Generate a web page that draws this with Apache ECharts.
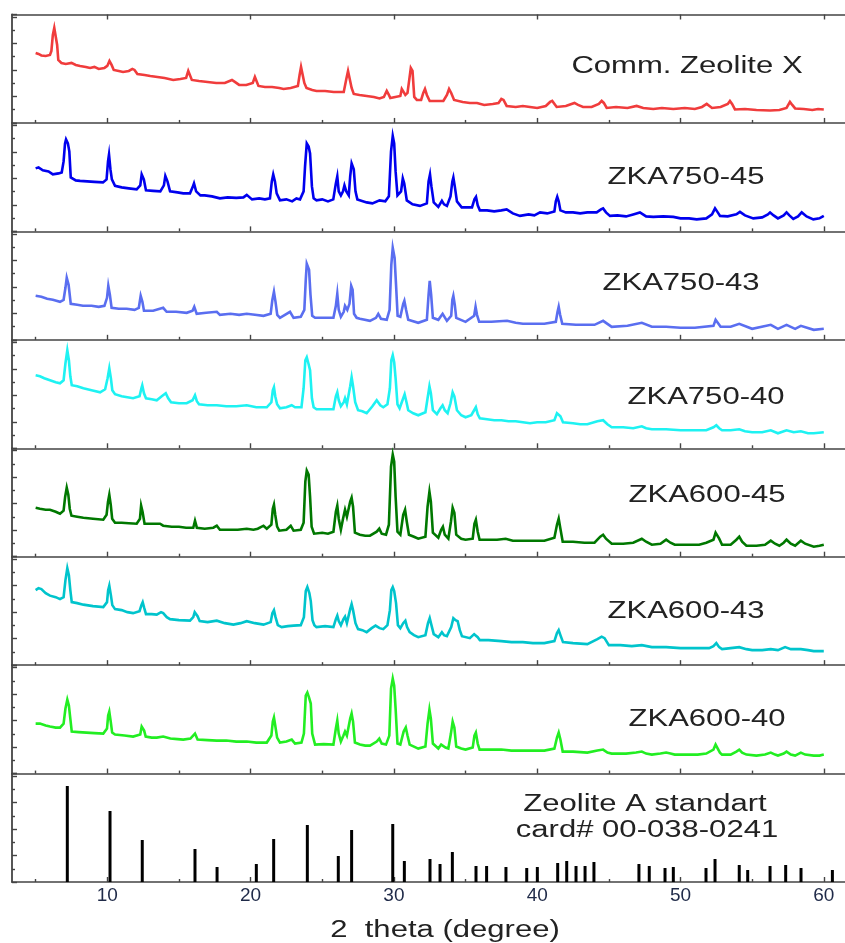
<!DOCTYPE html>
<html>
<head>
<meta charset="utf-8">
<script src="https://cdn.jsdelivr.net/npm/echarts@6/dist/echarts.min.js"></script>
<style>html,body{margin:0;padding:0;background:#fff}#c{width:845px;height:943px}</style>
</head>
<body>
<div id="c"></div>
<script>
// ---- data (2 theta in degrees, intensity in arbitrary units per panel) ----
const xTickLabels = [10, 20, 30, 40, 50, 60];
const xMinorTicks = [5, 15, 25, 35, 45, 55];
const sampleNames = ['Comm. Zeolite X', 'ZKA750-45', 'ZKA750-43', 'ZKA750-40', 'ZKA600-45', 'ZKA600-43', 'ZKA600-40'];

const commZeoliteX = [[5.0,70],[5.2,69],[5.4,67.5],[5.7,67],[6.0,68],[6.1,72],[6.2,88],[6.3,95],[6.42,93],[6.5,78],[6.58,63],[6.8,60],[7.1,59],[7.5,60],[7.8,58],[8.1,57],[8.5,56],[8.8,55],[9.1,56],[9.4,54],[9.8,55],[10.0,57],[10.15,62],[10.3,58],[10.45,53],[10.8,52],[11.1,51],[11.5,52],[11.75,54],[11.9,53],[12.1,49],[12.6,48],[13.0,47],[13.5,46],[14.0,45],[14.6,43],[15.1,44],[15.5,45],[15.65,52],[15.75,53],[15.9,43],[16.4,42],[17.0,41],[17.6,40],[18.2,40],[18.7,43],[18.9,41],[19.2,38],[19.7,38],[20.15,40],[20.3,46],[20.42,45],[20.55,37],[21.0,36],[21.5,36],[22.0,35],[22.3,34],[22.8,35],[23.3,37],[23.42,48],[23.52,56],[23.62,55],[23.75,40],[23.9,35],[24.3,33],[24.6,32],[25.2,32],[25.8,31],[26.5,31],[26.68,44],[26.8,52],[26.92,50],[27.05,35],[27.2,29],[27.6,28],[28.1,27],[28.6,26],[29.0,24.5],[29.3,26],[29.5,32],[29.65,28],[29.75,25],[30.1,26],[30.45,27],[30.55,34],[30.68,35],[30.8,28],[30.95,30],[31.08,44],[31.18,55],[31.3,52],[31.42,26],[31.6,23],[31.9,23],[32.05,30],[32.17,34],[32.3,28],[32.5,22],[33.0,22],[33.45,22],[33.7,28],[33.85,34],[34.0,30],[34.2,23],[34.8,21],[35.3,20],[35.8,20],[36.3,18],[36.9,19],[37.3,20],[37.5,24],[37.65,23],[37.87,17],[38.5,16],[39.0,17],[39.5,16],[40.0,15],[40.6,17],[40.9,21],[41.05,22],[41.36,16],[42.0,17],[42.6,20],[42.85,18],[43.2,16],[43.8,16],[44.3,19],[44.5,22],[44.65,20],[44.85,15],[45.5,16],[46.3,15],[46.94,17],[47.4,15],[48.1,14],[48.7,15],[49.5,14],[50.3,15],[51.0,14],[51.5,16],[51.83,19],[52.2,15],[52.8,16],[53.3,19],[53.45,22],[53.6,19],[53.8,13.5],[54.5,14],[55.3,13],[56.25,12.5],[56.9,13],[57.4,15],[57.64,21],[57.8,18],[58.0,14.5],[58.6,14],[59.2,13],[59.6,14],[60.0,13.5]];

const zka750_45 = [[5.0,63],[5.2,64],[5.5,61],[5.9,60],[6.2,57],[6.6,58],[6.82,59],[6.95,70],[7.05,88],[7.12,92],[7.25,88],[7.35,80],[7.45,54],[7.8,51],[8.1,50.5],[8.6,50],[9.1,49.5],[9.7,49],[9.95,52],[10.05,70],[10.12,77],[10.22,62],[10.32,52],[10.54,45.5],[11.0,44],[11.5,43],[12.05,42],[12.3,46],[12.4,57],[12.55,52],[12.7,41],[13.2,40.5],[13.7,40],[13.95,46],[14.05,55.5],[14.2,50],[14.38,40],[14.9,39],[15.3,38],[15.77,38],[15.95,44],[16.05,48],[16.2,40],[16.5,36],[16.8,36],[17.3,35],[17.86,33],[18.4,34],[19.0,33.5],[19.5,34],[19.73,36.5],[20.1,32],[20.6,33],[21.0,32],[21.35,33],[21.48,50],[21.58,57],[21.7,50],[21.82,38],[22.05,31],[22.5,32],[22.9,30],[23.2,33],[23.45,32],[23.7,40],[23.8,65],[23.92,88],[24.05,85],[24.15,78],[24.28,45],[24.4,33],[24.6,31],[25.0,32],[25.4,30],[25.77,32],[25.95,48],[26.05,55],[26.15,40],[26.3,36],[26.45,40],[26.55,46],[26.68,40],[26.85,36],[26.95,55],[27.05,68],[27.2,62],[27.32,40],[27.45,32],[28.1,29],[28.5,28],[29.0,31],[29.4,30],[29.65,35],[29.8,80],[29.92,95.5],[30.02,88],[30.12,60],[30.25,36],[30.5,40],[30.62,53],[30.72,48],[30.9,31],[31.3,27],[31.82,25.5],[32.3,28],[32.42,50],[32.52,57],[32.62,45],[32.78,29],[33.1,24.5],[33.35,30.5],[33.5,27],[33.7,25.5],[33.95,35],[34.08,50],[34.15,54],[34.25,45],[34.4,30],[34.73,24],[35.1,24],[35.45,24],[35.62,32],[35.73,34.5],[35.85,26],[36.0,21],[36.5,21],[37.0,20],[37.5,21],[37.87,22],[38.3,18],[38.8,15.5],[39.4,17],[39.8,16],[40.2,19],[40.7,18],[41.2,20],[41.3,30],[41.4,34.5],[41.5,30],[41.62,21],[42.0,19],[42.5,19],[43.0,18],[43.5,19],[44.15,19],[44.45,22],[44.6,23],[44.8,19],[45.08,15.5],[45.6,16],[46.2,15],[46.7,17],[47.17,19],[47.6,15],[48.1,14.5],[48.8,15],[49.5,14.5],[50.0,13],[50.6,13],[51.13,12],[51.8,13],[52.2,17],[52.41,23],[52.6,19],[52.76,15.5],[53.3,15],[53.9,17],[54.15,19.5],[54.5,16],[55.08,13],[55.7,14],[56.1,17],[56.25,19],[56.5,16],[56.8,13],[57.2,16],[57.4,19],[57.6,16],[57.87,12.5],[58.2,15],[58.46,19],[58.8,15],[59.27,12],[59.7,13],[60.0,15.5]];

const zka750_43 = [[5.0,44],[5.4,43],[5.8,41],[6.2,40],[6.7,38],[6.95,40],[7.08,52],[7.17,62],[7.3,55],[7.45,36],[7.9,35],[8.3,34],[8.9,34],[9.4,33],[9.8,34],[9.98,42],[10.07,54],[10.18,45],[10.3,32],[10.8,31],[11.35,31],[11.9,30],[12.2,32],[12.33,44],[12.45,38],[12.56,29],[13.2,29],[13.9,32],[14.14,28],[14.8,28],[15.54,27],[15.95,29],[16.07,33],[16.24,26],[16.9,27],[17.64,28],[17.86,25],[18.6,26],[19.2,25],[19.73,26],[20.3,25],[20.9,24],[21.4,26],[21.52,40],[21.63,48],[21.74,38],[21.86,25],[22.05,22],[22.75,28],[23.0,22],[23.5,23],[23.75,30],[23.85,60],[23.92,76],[24.08,70],[24.18,45],[24.3,24],[24.5,22],[25.1,22],[25.78,22],[25.95,34],[26.05,46],[26.15,30],[26.3,23],[26.5,28],[26.59,34],[26.75,30],[26.9,36],[27.02,54],[27.12,50],[27.22,26],[27.4,22],[27.63,21],[28.33,19],[28.75,22],[28.91,26],[29.1,21],[29.5,20],[29.7,30],[29.82,75],[29.92,92],[30.05,82],[30.15,55],[30.26,24],[30.45,23],[30.65,36],[30.73,39],[30.85,30],[31.0,20],[31.7,17],[32.3,20],[32.42,45],[32.5,59],[32.6,45],[32.72,22],[33.1,20],[33.4,26],[33.7,19],[34.0,24],[34.08,40],[34.15,44],[34.25,35],[34.35,22],[35.0,18],[35.6,24],[35.7,33],[35.8,25],[35.95,18],[36.8,18],[37.9,19],[38.5,17],[39.0,16],[39.7,16],[40.5,16],[41.3,18],[41.42,28],[41.5,33],[41.6,25],[41.75,16],[42.7,15],[44.0,15],[44.6,19],[45.2,13],[46.3,14],[47.3,17],[48.0,13],[49.0,13],[50.0,12],[51.0,12],[52.3,14],[52.45,20],[52.55,21],[52.8,13],[53.5,13],[54.1,16],[55.0,11],[56.3,15],[56.8,11],[57.4,15],[58.0,11],[58.4,14],[59.3,10],[60.0,11]];

const zka750_40 = [[5.0,73],[5.3,72],[5.6,70],[6.0,68],[6.4,66],[6.7,65],[6.95,68],[7.08,85],[7.21,98],[7.32,88],[7.42,72],[7.52,63],[7.9,62],[8.33,60],[8.9,58],[9.5,56],[9.85,59],[10.02,70],[10.14,80],[10.25,70],[10.35,58],[10.54,54],[11.0,52],[11.4,51],[11.8,50],[12.25,52],[12.38,60],[12.44,63],[12.56,55],[12.7,50],[13.1,49],[13.45,48],[13.8,52],[14.08,55],[14.25,50],[14.45,46],[15.0,45],[15.54,45],[15.95,48],[16.12,53],[16.25,47],[16.4,44],[17.0,43],[17.64,43],[18.3,42],[19.0,42],[19.73,43],[20.4,41],[21.13,41],[21.45,46],[21.55,58],[21.63,61],[21.72,52],[21.85,44],[22.05,40],[22.5,41],[22.87,43],[23.1,41],[23.55,41],[23.7,60],[23.82,88],[23.92,91],[24.05,84],[24.15,78],[24.28,50],[24.4,41],[24.6,39],[25.1,39],[25.78,39],[25.95,52],[26.05,56],[26.15,48],[26.3,42],[26.5,46],[26.59,50],[26.72,44],[26.85,42],[26.95,62],[27.05,71],[27.15,62],[27.3,46],[27.5,38],[27.8,37],[28.1,35],[28.5,42],[28.8,48],[29.05,43],[29.26,41],[29.55,44],[29.72,60],[29.82,88],[29.92,93],[30.02,86],[30.12,70],[30.25,44],[30.4,40],[30.6,48],[30.75,54],[30.88,46],[31.0,38],[31.35,35],[31.7,33],[32.2,36],[32.35,50],[32.48,62],[32.58,55],[32.72,38],[33.0,34],[33.25,40],[33.4,43],[33.55,38],[33.75,35],[33.95,45],[34.1,56],[34.22,52],[34.4,38],[34.7,33],[35.0,31],[35.4,33],[35.6,38],[35.72,41],[35.85,34],[36.0,30],[36.5,29],[37.0,28],[37.5,28],[38.0,27],[38.5,27],[39.0,26],[39.5,25],[40.0,26],[40.6,26],[41.2,28],[41.38,35],[41.5,37],[41.62,32],[41.8,26],[42.5,25],[43.0,24],[43.5,24],[44.2,27],[44.6,28],[44.9,24],[45.2,21],[46.0,21],[46.7,20],[47.3,22],[47.6,20],[48.0,19],[49.0,19],[50.0,18],[51.0,18],[51.8,18],[52.3,21],[52.5,23],[52.7,20],[52.9,18],[53.5,18],[54.1,19],[54.5,17],[55.0,16],[55.7,16],[56.3,18],[56.8,15],[57.4,18],[57.9,16],[58.4,17],[58.9,15],[59.3,15],[60.0,16]];

const zka600_45 = [[5.0,49],[5.3,48],[5.7,47],[6.0,47],[6.4,45],[6.7,43],[6.95,46],[7.06,60],[7.17,69],[7.28,62],[7.38,48],[7.5,41],[7.9,40],[8.33,39],[9.0,38],[9.72,37],[9.95,42],[10.05,55],[10.14,62],[10.24,52],[10.34,38],[10.54,34],[11.0,34],[11.5,33.5],[12.05,33],[12.28,38],[12.36,51],[12.46,45],[12.6,33],[13.0,33],[13.68,33],[13.9,31],[14.5,30],[15.0,30],[15.5,29],[16.0,29],[16.12,36],[16.25,29],[16.8,28],[17.4,29],[17.64,31],[17.86,27],[18.5,27],[19.1,27],[19.73,28],[20.2,27],[20.5,28],[20.9,31],[21.13,28],[21.45,32],[21.55,48],[21.63,52],[21.72,42],[21.85,30],[22.0,26],[22.5,27],[22.8,31],[23.0,26],[23.5,27],[23.7,34],[23.82,75],[23.92,86],[24.05,82],[24.15,60],[24.26,30],[24.43,23],[25.0,24],[25.4,23],[25.78,25],[25.95,45],[26.05,51],[26.15,38],[26.3,27],[26.45,38],[26.59,47],[26.72,40],[26.85,40],[26.95,55],[27.05,59],[27.15,50],[27.28,24],[27.63,22],[28.0,21],[28.33,21],[28.8,25],[28.98,28],[29.15,23],[29.45,22],[29.65,32],[29.8,90],[29.92,102],[30.02,95],[30.12,60],[30.25,25],[30.45,22],[30.65,42],[30.78,47],[30.9,35],[31.05,22],[31.4,20],[31.7,18],[32.2,20],[32.35,50],[32.48,65],[32.58,55],[32.72,24],[33.1,19],[33.3,27],[33.42,30],[33.55,22],[33.8,18],[33.98,35],[34.1,49],[34.22,44],[34.35,22],[34.7,18],[35.0,17],[35.5,18],[35.62,33],[35.72,37],[35.85,25],[35.98,17],[36.5,17],[37.2,17],[37.8,18],[38.3,16],[39.0,16],[39.7,16],[40.5,16],[41.2,19],[41.38,32],[41.5,38],[41.62,28],[41.78,15],[42.5,15],[43.3,14],[44.0,14],[44.4,20],[44.6,22],[44.8,18],[45.2,13],[46.0,13],[46.7,14],[47.3,18],[47.6,15],[48.0,12],[48.6,13],[49.0,17],[49.3,14],[49.6,12],[50.5,12],[51.3,12],[51.8,14],[52.3,17],[52.45,24],[52.55,25],[52.7,18],[52.9,12],[53.5,12],[53.9,17],[54.1,20],[54.3,15],[54.6,11],[55.3,11],[55.9,12],[56.3,16],[56.6,13],[56.9,11],[57.2,14],[57.4,17],[57.7,13],[58.0,11],[58.4,16],[58.7,13],[59.3,10],[59.7,11],[60.0,12]];

const zka600_43 = [[5.0,75],[5.2,77],[5.4,76],[5.7,72],[6.0,69.5],[6.4,68],[6.7,66],[6.95,68],[7.08,85],[7.21,97],[7.32,90],[7.42,75],[7.52,63],[7.9,62],[8.33,60.5],[9.0,59],[9.72,58],[9.98,63],[10.06,75],[10.14,79.5],[10.25,70],[10.35,60],[10.54,56],[11.0,55],[11.4,53],[11.8,52],[12.25,54],[12.38,60],[12.47,63],[12.58,57],[12.7,51],[13.1,51],[13.45,50.5],[13.75,53],[13.9,52],[14.15,48],[14.38,46],[15.0,45],[15.77,44.5],[16.0,48],[16.1,53],[16.19,55],[16.3,49],[16.45,44],[17.0,43],[17.64,44.5],[18.2,42],[18.8,40.5],[19.3,42],[19.73,44],[20.3,42],[20.9,40.5],[21.4,43],[21.52,52],[21.63,55],[21.74,48],[21.9,40],[22.17,38],[22.6,39],[23.0,39.5],[23.5,40],[23.72,48],[23.85,74],[23.96,78],[24.1,72],[24.2,64],[24.32,45],[24.45,40],[24.6,38],[25.2,39],[25.78,38],[25.95,46],[26.05,49.5],[26.15,44],[26.3,40],[26.48,46],[26.59,48.5],[26.72,42],[26.85,42],[26.95,56],[27.05,61],[27.15,55],[27.32,42],[27.5,36],[27.8,35],[28.1,33],[28.45,37],[28.72,39.5],[29.0,37],[29.26,36],[29.55,40],[29.72,55],[29.82,75],[29.92,78],[30.02,74],[30.15,62],[30.28,40],[30.45,37],[30.65,42],[30.8,44.5],[30.92,38],[31.1,33],[31.4,30],[31.7,28],[32.2,30],[32.38,42],[32.5,47],[32.62,40],[32.78,31],[33.1,28],[33.35,33],[33.5,30],[33.7,29],[34.0,38],[34.15,47],[34.3,45],[34.45,44],[34.6,35],[34.75,29],[35.3,27],[35.6,31],[35.72,33],[35.85,28],[36.0,25],[36.6,25],[37.5,24],[38.2,23],[39.0,23],[39.7,22],[40.5,22],[41.2,24],[41.38,32],[41.5,35],[41.62,30],[41.8,23],[42.5,22],[43.5,21],[44.2,26],[44.5,28.5],[44.7,27],[45.0,20],[45.8,20],[46.6,19],[47.3,20],[48.0,18],[49.0,18],[50.0,17],[51.0,17],[52.0,17],[52.3,19],[52.5,22],[52.7,18],[52.9,16],[53.5,17],[54.1,18],[54.6,16],[55.0,15],[55.7,15],[56.3,16],[56.8,15],[57.3,18],[57.7,16],[58.4,16],[58.9,15],[59.3,14],[60.0,14]];

const zka600_40 = [[5.0,50],[5.3,50],[5.7,48],[6.0,47],[6.4,46],[6.7,46],[6.95,50],[7.08,65],[7.21,74],[7.32,68],[7.42,55],[7.52,42],[8.0,41.5],[8.55,41],[9.1,40.5],[9.72,40],[9.98,45],[10.06,58],[10.14,62],[10.24,52],[10.34,41],[10.54,39],[11.2,38],[11.8,37],[12.3,39],[12.4,47],[12.47,49],[12.57,43],[12.68,37],[13.1,36],[13.45,36],[13.9,37],[14.4,35],[14.9,34.5],[15.3,34],[15.8,35],[16.12,40],[16.3,34],[17.0,33.5],[17.64,33],[18.3,33],[19.0,32],[19.73,32],[20.4,31],[21.13,31],[21.45,38],[21.55,52],[21.63,56],[21.72,48],[21.85,36],[22.05,31],[22.5,32],[22.87,34],[23.1,30],[23.55,31],[23.72,40],[23.85,78],[23.96,81],[24.08,76],[24.2,70],[24.3,40],[24.5,29],[25.1,29.5],[25.78,29],[25.95,45],[26.05,53],[26.15,40],[26.3,32],[26.48,38],[26.59,42],[26.72,38],[26.85,38],[26.95,55],[27.05,60],[27.15,52],[27.28,31],[27.63,29],[28.0,28],[28.33,28],[28.8,32],[28.98,35],[29.15,30],[29.45,29],[29.68,38],[29.8,85],[29.92,95],[30.02,88],[30.12,65],[30.25,30],[30.45,29],[30.68,42],[30.83,46],[30.95,38],[31.1,29],[31.4,27],[31.7,25],[32.2,27],[32.35,50],[32.48,64],[32.58,55],[32.72,30],[33.1,25],[33.3,29],[33.42,30],[33.6,26],[33.8,25],[33.98,40],[34.1,52],[34.22,46],[34.35,27],[34.7,25],[35.0,24],[35.5,26],[35.62,38],[35.72,41],[35.85,30],[35.98,24],[36.6,24],[37.5,24],[38.2,23],[39.0,23],[39.8,23],[40.5,23],[41.2,25],[41.38,36],[41.5,41],[41.62,34],[41.78,22],[42.5,22],[43.5,21],[44.2,23],[44.6,24],[44.9,21],[45.2,20],[46.2,20],[46.9,21],[47.3,22],[47.6,20],[48.0,19],[48.6,20],[49.0,21],[49.3,20],[49.6,19],[50.4,19],[51.2,19],[51.8,20],[52.3,24],[52.45,29],[52.55,28],[52.75,21],[52.9,19],[53.5,19],[53.9,22],[54.1,24],[54.3,21],[54.6,19],[55.3,18],[55.9,19],[56.3,21],[56.6,19],[56.8,18],[57.2,20],[57.4,22],[57.7,19],[58.0,18],[58.4,21],[58.7,19],[59.3,18],[59.7,18],[60.0,19]];

// Zeolite A standard card# 00-038-0241 : [2theta, relative intensity]
const zeoliteAStandard = [[7.21,96],[10.19,71],[12.44,42],[16.12,33],[17.66,15],[20.4,18],[21.61,43],[23.96,57],[26.12,26],[27.05,52],[29.92,58],[30.73,21],[32.52,23],[33.22,18],[34.08,30],[35.73,16],[36.47,16],[37.82,15],[39.27,14],[40.01,15],[41.43,19],[42.06,21],[42.71,16],[43.34,16],[43.96,20],[47.1,18],[47.82,16],[48.92,14],[49.5,15],[51.78,14],[52.41,23],[54.1,17],[54.69,12],[56.25,16],[57.34,17],[58.41,14],[60.6,12]];

const seriesData = [commZeoliteX, zka750_45, zka750_43, zka750_40, zka600_45, zka600_43, zka600_40];
const seriesColors = ['#f03c3c', '#0000ee', '#5a6ef0', '#1ef2f2', '#007800', '#00c4cc', '#22ee22'];

// ---- layout ----
const X_MIN = 3.35, X_MAX = 61.48;
const TOP = 14.5, PANEL_H = 108.44, NPANEL = 8;
const AX = '#444';

const chart = echarts.init(document.getElementById('c'), null, {renderer: 'canvas'});
const grids = [], xAxes = [], yAxes = [], series = [];
for (let i = 0; i < NPANEL; i++) {
  grids.push({left: 12, right: 0, top: TOP + i * PANEL_H, height: PANEL_H});
  xAxes.push({
    gridIndex: i, type: 'value', min: X_MIN, max: X_MAX, position: 'bottom',
    axisLine: {show: true, onZero: false, lineStyle: {color: AX, width: 1.6}},
    axisTick: {show: true, inside: true, length: 5, customValues: xTickLabels, lineStyle: {color: AX, width: 1.4}},
    axisLabel: {show: i === NPANEL - 1, customValues: xTickLabels, margin: 4,
      fontFamily: 'Liberation Sans', fontSize: 19, color: '#1f2a48'},
    splitLine: {show: false}
  });
  xAxes.push({
    gridIndex: i, type: 'value', min: X_MIN, max: X_MAX, position: 'bottom',
    axisLine: {show: false},
    axisTick: {show: true, inside: true, length: 3, customValues: xMinorTicks, lineStyle: {color: AX, width: 1.4}},
    axisLabel: {show: false, customValues: xMinorTicks},
    splitLine: {show: false}
  });
  yAxes.push({
    gridIndex: i, type: 'value', min: 0, max: PANEL_H, interval: 26.5,
    axisLine: {show: true, onZero: false, lineStyle: {color: AX, width: 1.8}},
    axisTick: {show: true, inside: true, length: 5, lineStyle: {color: AX, width: 1.4}},
    minorTick: {show: true, splitNumber: 2, length: 3, lineStyle: {color: AX, width: 1.4}},
    axisLabel: {show: false},
    splitLine: {show: false}, minorSplitLine: {show: false}
  });
}
// top axis of first panel
xAxes.push({
  gridIndex: 0, type: 'value', min: X_MIN, max: X_MAX, position: 'top',
  axisLine: {show: true, onZero: false, lineStyle: {color: AX, width: 1.6}},
  axisTick: {show: true, inside: true, length: 5, customValues: xTickLabels, lineStyle: {color: AX, width: 1.4}},
  axisLabel: {show: false, customValues: xTickLabels},
  splitLine: {show: false}
});

seriesData.forEach((d, i) => {
  series.push({
    type: 'line', name: sampleNames[i], xAxisIndex: 2 * i, yAxisIndex: i, data: d,
    showSymbol: false, symbol: 'none', lineStyle: {color: seriesColors[i], width: 2.6, join: 'miter'},
    silent: true, animation: false
  });
});
series.push({
  type: 'bar', name: 'Zeolite A standart', xAxisIndex: 2 * 7, yAxisIndex: 7, data: zeoliteAStandard,
  barWidth: 3, itemStyle: {color: '#000'}, silent: true, animation: false
});

const labelPos = [[687, 67], [686, 178], [681, 284], [706, 398], [707, 496], [686, 612], [707, 720]];
const graphics = sampleNames.map((t, i) => ({
  type: 'text', x: labelPos[i][0], y: labelPos[i][1], scaleX: 1.35, silent: true,
  style: {text: t, x: 0, y: 0, align: 'center', verticalAlign: 'middle',
    font: '23px "Liberation Sans"', fill: '#222'}
}));
graphics.push({
  type: 'text', x: 645, y: 805, scaleX: 1.35, silent: true,
  style: {text: 'Zeolite A standart', x: 0, y: 0, align: 'center', verticalAlign: 'middle', font: '23px "Liberation Sans"', fill: '#222'}
});
graphics.push({
  type: 'text', x: 647, y: 831, scaleX: 1.35, silent: true,
  style: {text: 'card# 00-038-0241', x: 0, y: 0, align: 'center', verticalAlign: 'middle', font: '23px "Liberation Sans"', fill: '#222'}
});
graphics.push({
  type: 'text', x: 445, y: 931, scaleX: 1.35, silent: true,
  style: {text: '2  theta (degree)', x: 0, y: 0, align: 'center', verticalAlign: 'middle', font: '23px "Liberation Sans"', fill: '#222'}
});

chart.setOption({
  animation: false,
  backgroundColor: '#fff',
  grid: grids, xAxis: xAxes, yAxis: yAxes, series: series,
  graphic: graphics
});
</script>
</body>
</html>
